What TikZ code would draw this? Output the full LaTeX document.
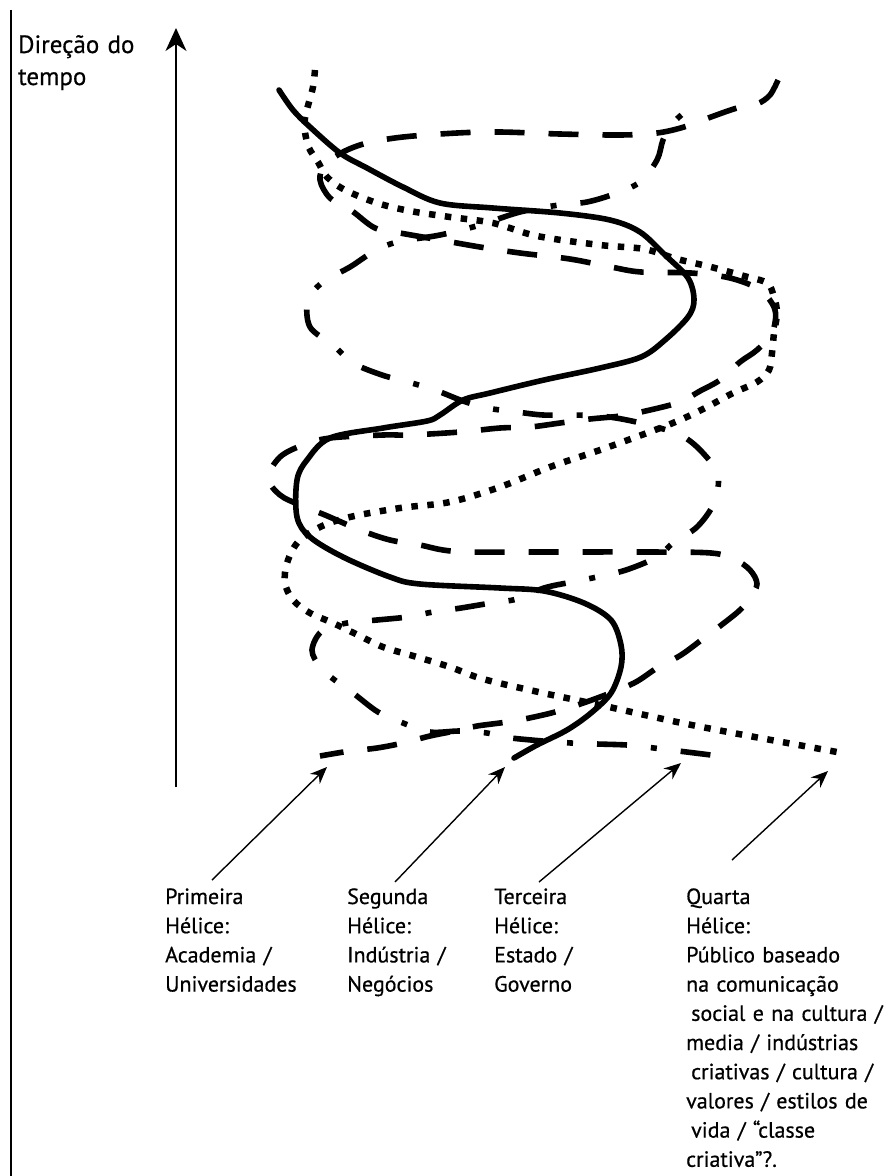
\documentclass[tikz,border=0pt]{standalone}
\usepackage{fontspec}
\setmainfont[FakeBold=0.6]{PT Sans}
\usetikzlibrary{arrows.meta}
\begin{document}
\begin{tikzpicture}[x=1pt,y=-1pt,
  helix/.style={line width=5.6pt, line join=round},
  solidhelix/.style={helix, line cap=round},
  dashedhelix/.style={helix, dash pattern=on 30pt off 24pt},
  dottedhelix/.style={line width=6.5pt, dash pattern=on 6.5pt off 9.5pt},
  dashdothelix/.style={helix, dash pattern=on 30pt off 24pt on 6pt off 24pt},
  helixlabel/.style={anchor=base west, inner sep=0pt, text width=190pt, align=left,
    font=\fontsize{22}{29.2}\selectfont},
  pointer/.style={line width=1.4pt, -{Stealth[length=17pt,width=14pt]}},
]
% canvas
\fill[white] (0,0) rectangle (888,1176);
\useasboundingbox (0,0) rectangle (888,1176);

% left rule
\draw[line width=1.2pt] (11,10) -- (11,1176);

% time axis
\coordinate (axisbottom) at (176,787);
\coordinate (axistop) at (176,28);
\draw[line width=2pt, -{Stealth[length=23pt,width=21pt,inset=7pt]}] (axisbottom) -- (axistop);
\node[anchor=base west, inner sep=0pt, text width=160pt, align=left,
  font=\fontsize{25}{32}\selectfont] (timelabel) at (18,53) {Direção do\\tempo};

% second helix (solid)
\draw[solidhelix] plot[smooth, tension=0.55] coordinates {
 (279,90) (293,110) (310,127) (340,153) (367,168) (403,187) (440,203) (493,208)
 (560,213) (610,220) (640,232) (665,255) (688,278) (694,300) (688,317) (665,340)
 (641,357) (600,368) (544,380) (490,393) (463,400) (440,415) (427,421) (383,428)
 (330,438) (307,460) (297,480) (297,517) (310,537) (343,557) (390,577) (420,584)
 (500,588) (544,591) (584,603) (611,620) (621,645) (621,667) (611,693) (591,713)
 (567,730) (537,745) (514,758)};

% fourth helix (dotted)
\draw[dottedhelix] plot[smooth, tension=0.55] coordinates {
 (315,70) (313,87) (309,102) (305,118) (305,132) (309,148) (318,162) (327,177)
 (345,190) (377,203) (410,211) (450,217) (493,223) (537,236) (600,245) (644,249)
 (677,259) (711,267) (744,276) (767,283) (774,297) (777,313) (774,333) (772,353)
 (769,370) (757,382) (733,393) (707,407) (680,420) (647,433) (600,450) (550,467)
 (500,487) (450,502) (400,508) (350,517) (320,527) (298,542) (287,563) (285,583)
 (293,600) (310,613) (333,623) (360,636) (383,647) (417,657) (450,667) (483,679)
 (543,693) (600,705) (677,722) (744,735) (837,752)};

% first helix (dashed)
\draw[dashedhelix] plot[smooth, tension=0.55] coordinates {
 (778,80) (770,95) (757,104) (737,108) (711,117) (684,127) (657,133) (620,135)
 (560,134) (500,132) (457,133) (403,137) (367,143) (343,152) (325,165) (320,180)
 (330,198) (352,211) (375,228) (400,233) (440,240) (480,247) (520,253) (570,259)
 (611,267) (641,272) (691,273) (730,278) (760,290) (775,310) (772,333) (757,350)
 (740,362) (720,380) (700,391) (680,402) (650,410) (620,416) (590,419) (560,423)
 (530,427) (500,428) (460,432) (410,435) (383,435) (330,438) (303,445) (280,457)
 (268,478) (280,495) (300,505) (325,515) (360,530) (390,540) (420,545) (443,550)
 (470,552) (550,552) (650,552) (711,553) (734,559) (750,570) (757,584) (750,598)
 (740,610) (724,623) (704,638) (681,655) (657,668) (634,683) (600,697) (562,710)
 (534,717) (507,722) (477,726) (460,730) (430,736) (403,743) (377,748) (350,751)
 (320,756)};

% third helix (dash-dot)
\draw[dashdothelix, dash phase=48pt] plot[smooth, tension=0.55] coordinates {
 (686,111) (672,124) (663,140) (657,160) (640,182) (614,194) (587,202) (559,205)
 (520,212) (480,225) (440,235) (397,242) (373,252) (350,267) (323,282) (308,300)
 (310,327) (333,345) (353,363) (382,375) (408,382) (435,390) (463,401) (487,408)
 (517,412) (543,415) (570,415) (600,416) (627,420) (660,428) (684,437) (703,453)
 (718,475) (714,503) (697,527) (674,542) (657,557) (626,570) (597,577) (572,582)
 (544,588) (517,599) (491,603) (461,608) (433,612) (407,617) (377,620) (347,623)
 (322,631) (312,650) (320,667) (332,678) (353,693) (378,712) (403,723) (430,732)
 (460,731) (487,733) (511,738) (571,743) (627,745) (654,748) (711,755)};

% helix labels
\node[helixlabel] (first) at (165,904) {Primeira\\Hélice:\\Academia /\\Universidades};
\node[helixlabel] (second) at (347,904) {Segunda\\Hélice:\\Indústria /\\Negócios};
\node[helixlabel] (third) at (494,904) {Terceira\\Hélice:\\Estado /\\Governo};
\node[helixlabel, text width=260pt] (fourth) at (686,904) {Quarta\\Hélice:\\Público baseado\\na comunicação\\
  \hspace*{5pt}social e na cultura /\\media / indústrias\\\hspace*{5pt}criativas / cultura /\\
  valores / estilos de\\\hspace*{5pt}vida / “classe\\criativa”?.};

% pointers from labels to the helix ends
\coordinate (firsttail) at (212,880);
\coordinate (firsthead) at (327,767);
\coordinate (secondtail) at (395,882);
\coordinate (secondhead) at (505,767);
\coordinate (thirdtail) at (539,882);
\coordinate (thirdhead) at (681,763);
\coordinate (fourthtail) at (732,860);
\coordinate (fourthhead) at (828,771);
\draw[pointer] (firsttail) -- (firsthead);
\draw[pointer] (secondtail) -- (secondhead);
\draw[pointer] (thirdtail) -- (thirdhead);
\draw[pointer] (fourthtail) -- (fourthhead);
\end{tikzpicture}
\end{document}
